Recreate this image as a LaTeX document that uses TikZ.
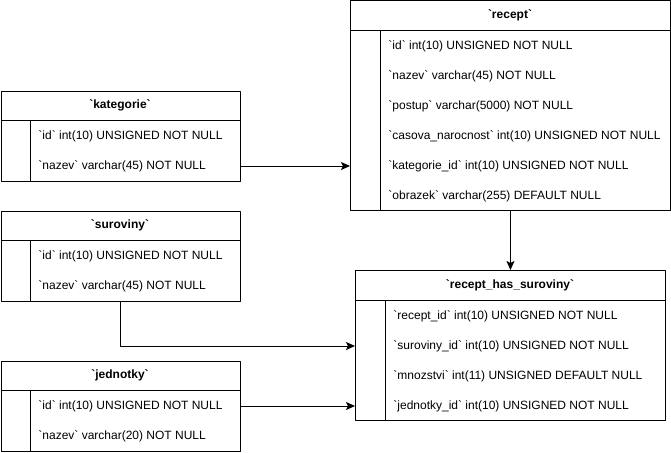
\documentclass[tikz,border=0pt]{standalone}
\usepackage{fontspec}
\usetikzlibrary{arrows.meta}
\setmainfont{Liberation Sans}[Ligatures=TeXOff]
\begin{document}
\begin{tikzpicture}[x=1pt, y=-1pt, line width=0.9pt, line join=round, >={Stealth[length=9pt,width=8pt,inset=2pt]},
		font=\fontsize{12}{14}\selectfont,
		tbl/.style={draw, anchor=north west, inner sep=0pt},
		head/.style={font=\fontsize{12}{14}\selectfont\bfseries},
		row/.style={anchor=west, inner sep=0pt, yshift=-1pt}]
	\useasboundingbox (0,0) rectangle (671,452);
	% `kategorie`
	\node[tbl, minimum width=239.5, minimum height=90] (kat) at (0.5,90.5) {};
	\draw (0.5,120)--(240,120) (30,120)--(30,180.5);
	\node[head] (kat-h) at (120,105) {`kategorie`};
	\node[row] (kat-id) at (38,135) {`id` int(10) UNSIGNED NOT NULL};
	\node[row] (kat-nazev) at (38,165) {`nazev` varchar(45) NOT NULL};
	% `suroviny`
	\node[tbl, minimum width=239.5, minimum height=90] (sur) at (0.5,210.5) {};
	\draw (0.5,240)--(240,240) (30,240)--(30,300.5);
	\node[head] (sur-h) at (120,225) {`suroviny`};
	\node[row] (sur-id) at (38,255) {`id` int(10) UNSIGNED NOT NULL};
	\node[row] (sur-nazev) at (38,285) {`nazev` varchar(45) NOT NULL};
	% `jednotky`
	\node[tbl, minimum width=239.5, minimum height=90] (jed) at (0.5,360.5) {};
	\draw (0.5,390)--(240,390) (30,390)--(30,450.5);
	\node[head] (jed-h) at (120,375) {`jednotky`};
	\node[row] (jed-id) at (38,405) {`id` int(10) UNSIGNED NOT NULL};
	\node[row] (jed-nazev) at (38,435) {`nazev` varchar(20) NOT NULL};
	% `recept`
	\node[tbl, minimum width=320, minimum height=209.5] (rec) at (350,0.5) {};
	\draw (350,30)--(670,30) (380,30)--(380,210);
	\node[head] (rec-h) at (510,15) {`recept`};
	\node[row] (rec-id) at (388,45) {`id` int(10) UNSIGNED NOT NULL};
	\node[row] (rec-nazev) at (388,75) {`nazev` varchar(45) NOT NULL};
	\node[row] (rec-postup) at (388,105) {`postup` varchar(5000) NOT NULL};
	\node[row] (rec-cas) at (388,135) {`casova\_narocnost` int(10) UNSIGNED NOT NULL};
	\node[row] (rec-katid) at (388,165) {`kategorie\_id` int(10) UNSIGNED NOT NULL};
	\node[row] (rec-obr) at (388,195) {`obrazek` varchar(255) DEFAULT NULL};
	% `recept_has_suroviny`
	\node[tbl, minimum width=310, minimum height=150] (rhs) at (355,270) {};
	\draw (355,300)--(665,300) (385,300)--(385,420);
	\node[head] (rhs-h) at (510,285) {`recept\_has\_suroviny`};
	\node[row] (rhs-recid) at (393,315) {`recept\_id` int(10) UNSIGNED NOT NULL};
	\node[row] (rhs-surid) at (393,345) {`suroviny\_id` int(10) UNSIGNED NOT NULL};
	\node[row] (rhs-mno) at (393,375) {`mnozstvi` int(11) UNSIGNED DEFAULT NULL};
	\node[row] (rhs-jedid) at (393,405) {`jednotky\_id` int(10) UNSIGNED NOT NULL};
	% vazby
	\draw[->] (kat-nazev -| kat.east)--(kat-nazev -| rec.west);
	\draw[->] (rec)--(rhs);
	\draw[->] (sur.south) |- (rhs-surid -| rhs.west);
	\draw[->] (jed-id -| jed.east)--(jed-id -| rhs.west);
\end{tikzpicture}
\end{document}
